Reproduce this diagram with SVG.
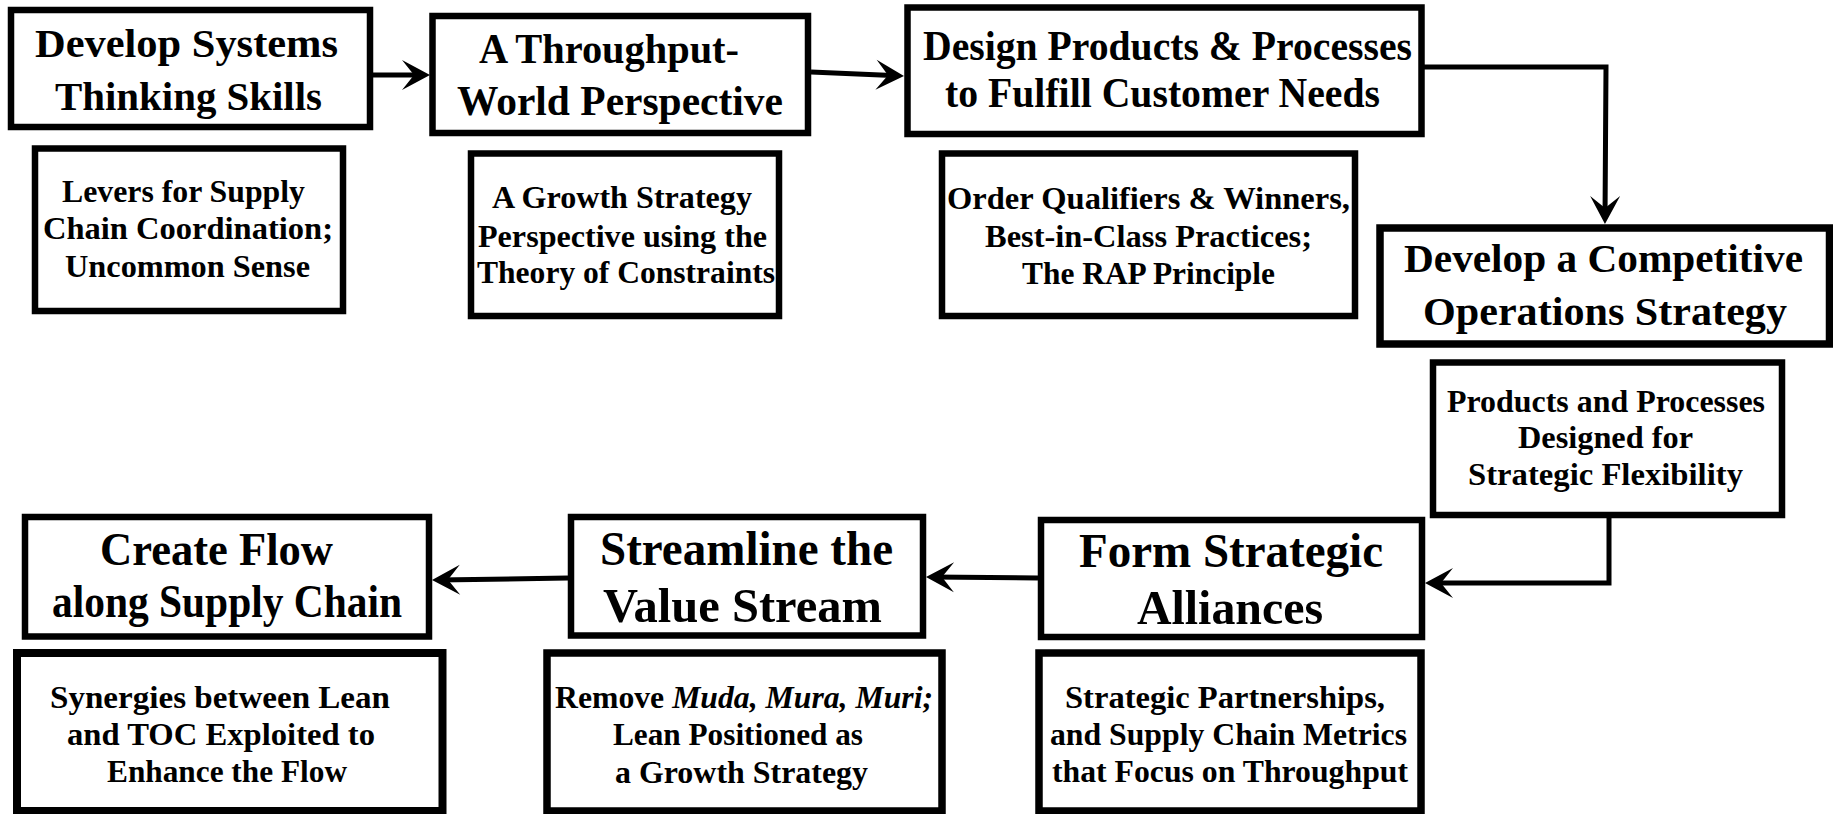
<svg xmlns="http://www.w3.org/2000/svg" width="1833" height="814" viewBox="0 0 1833 814">
<style>
.box{fill:#fff;stroke:#000;stroke-width:6.5}
.thick{stroke-width:7.5}
.t{font-family:'Liberation Serif','Times New Roman',Times,serif;font-weight:700;text-anchor:middle;fill:#000}
.h{font-size:42px}
.s{font-size:32px}
.i{font-style:italic}
.conn{fill:none;stroke:#000;stroke-width:5;stroke-linejoin:miter;marker-end:url(#ah)}
</style>
<defs>
<marker id="ah" markerUnits="userSpaceOnUse" viewBox="-24 -16 32 32" refX="0" refY="0" markerWidth="32" markerHeight="32" orient="auto">
<path d="M6,0 L-22,-15 L-10,0 L-22,15 Z" fill="#000"/>
</marker>
</defs>
<rect width="1833" height="814" fill="#fff"/>

<g id="connectors">
<path class="conn" d="M373,75 L424,75"/>
<path class="conn" d="M811,72 L898,75.7"/>
<path class="conn" d="M1424,67 L1606,67 L1605,218"/>
<path class="conn" d="M1609,518 L1609,583 L1431,583"/>
<path class="conn" d="M1038,578 L932,577"/>
<path class="conn" d="M568,578 L438,580"/>
</g>

<g id="n1">
<rect class="box" x="11" y="10" width="359" height="117"/>
<text class="t h" style="font-size:40px" x="186.5" y="57" textLength="303" lengthAdjust="spacingAndGlyphs">Develop Systems</text>
<text class="t h" style="font-size:40px" x="188.5" y="110" textLength="267" lengthAdjust="spacingAndGlyphs">Thinking Skills</text>
</g>
<g id="n1s">
<rect class="box" x="35" y="148.5" width="308" height="162.5"/>
<text class="t s" x="183.5" y="202" textLength="243" lengthAdjust="spacingAndGlyphs">Levers for Supply</text>
<text class="t s" x="188" y="239" textLength="290" lengthAdjust="spacingAndGlyphs">Chain Coordination;</text>
<text class="t s" x="187.5" y="277" textLength="245" lengthAdjust="spacingAndGlyphs">Uncommon Sense</text>
</g>

<g id="n2">
<rect class="box" x="432.5" y="16" width="375.5" height="117"/>
<text class="t h" x="609" y="63" textLength="260" lengthAdjust="spacingAndGlyphs">A Throughput-</text>
<text class="t h" x="620" y="115" textLength="326" lengthAdjust="spacingAndGlyphs">World Perspective</text>
</g>
<g id="n2s">
<rect class="box" x="471" y="153.5" width="308" height="162.5"/>
<text class="t s" x="622" y="208" textLength="260" lengthAdjust="spacingAndGlyphs">A Growth Strategy</text>
<text class="t s" x="622.5" y="247" textLength="289" lengthAdjust="spacingAndGlyphs">Perspective using the</text>
<text class="t s" x="626" y="283" textLength="298" lengthAdjust="spacingAndGlyphs">Theory of Constraints</text>
</g>

<g id="n3">
<rect class="box" x="907.5" y="7.5" width="514" height="126.5"/>
<text class="t h" x="1167.5" y="60" textLength="489" lengthAdjust="spacingAndGlyphs">Design Products &amp; Processes</text>
<text class="t h" x="1162.5" y="107" textLength="435" lengthAdjust="spacingAndGlyphs">to Fulfill Customer Needs</text>
</g>
<g id="n3s">
<rect class="box" x="942" y="153.5" width="413" height="162.5"/>
<text class="t s" x="1148.5" y="209" textLength="403" lengthAdjust="spacingAndGlyphs">Order Qualifiers &amp; Winners,</text>
<text class="t s" x="1148.5" y="247" textLength="327" lengthAdjust="spacingAndGlyphs">Best-in-Class Practices;</text>
<text class="t s" x="1148.5" y="284" textLength="253" lengthAdjust="spacingAndGlyphs">The RAP Principle</text>
</g>

<g id="n4">
<rect class="box thick" x="1380" y="228" width="449.5" height="116"/>
<text class="t h" style="font-size:41px" x="1603.5" y="272" textLength="399" lengthAdjust="spacingAndGlyphs">Develop a Competitive</text>
<text class="t h" style="font-size:41px" x="1605" y="325" textLength="364" lengthAdjust="spacingAndGlyphs">Operations Strategy</text>
</g>
<g id="n4s">
<rect class="box" x="1433" y="362.5" width="349" height="152.5"/>
<text class="t s" x="1606" y="412" textLength="318" lengthAdjust="spacingAndGlyphs">Products and Processes</text>
<text class="t s" x="1605.5" y="448" textLength="175" lengthAdjust="spacingAndGlyphs">Designed for</text>
<text class="t s" x="1605.5" y="485" textLength="275" lengthAdjust="spacingAndGlyphs">Strategic Flexibility</text>
</g>

<g id="n5">
<rect class="box" x="1041" y="520" width="381" height="117"/>
<text class="t" style="font-size:49px" x="1231" y="567" textLength="304" lengthAdjust="spacingAndGlyphs">Form Strategic</text>
<text class="t" style="font-size:49px" x="1230" y="624" textLength="186" lengthAdjust="spacingAndGlyphs">Alliances</text>
</g>
<g id="n5s">
<rect class="box thick" x="1039" y="653" width="382" height="158"/>
<text class="t s" x="1225" y="708" textLength="320" lengthAdjust="spacingAndGlyphs">Strategic Partnerships,</text>
<text class="t s" x="1228.5" y="745" textLength="357" lengthAdjust="spacingAndGlyphs">and Supply Chain Metrics</text>
<text class="t s" x="1230" y="782" textLength="356" lengthAdjust="spacingAndGlyphs">that Focus on Throughput</text>
</g>

<g id="n6">
<rect class="box" x="571" y="517" width="352" height="118.5"/>
<text class="t" style="font-size:48px" x="746.5" y="565" textLength="293" lengthAdjust="spacingAndGlyphs">Streamline the</text>
<text class="t" style="font-size:48px" x="742.5" y="622" textLength="279" lengthAdjust="spacingAndGlyphs">Value Stream</text>
</g>
<g id="n6s">
<rect class="box thick" x="547" y="653" width="395" height="158"/>
<text class="t s" x="744" y="708" textLength="378" lengthAdjust="spacingAndGlyphs">Remove <tspan class="i">Muda, Mura, Muri;</tspan></text>
<text class="t s" x="738" y="745" textLength="250" lengthAdjust="spacingAndGlyphs">Lean Positioned as</text>
<text class="t s" x="741.5" y="783" textLength="253" lengthAdjust="spacingAndGlyphs">a Growth Strategy</text>
</g>

<g id="n7">
<rect class="box" x="25" y="517" width="404" height="119.5"/>
<text class="t" style="font-size:47px" x="216.5" y="565" textLength="233" lengthAdjust="spacingAndGlyphs">Create Flow</text>
<text class="t" style="font-size:47px" x="227" y="617" textLength="350" lengthAdjust="spacingAndGlyphs">along Supply Chain</text>
</g>
<g id="n7s">
<rect class="box" style="stroke-width:8" x="17" y="653" width="425.5" height="158"/>
<text class="t s" x="220" y="708" textLength="340" lengthAdjust="spacingAndGlyphs">Synergies between Lean</text>
<text class="t s" x="221" y="745" textLength="308" lengthAdjust="spacingAndGlyphs">and TOC Exploited to</text>
<text class="t s" x="227" y="782" textLength="240" lengthAdjust="spacingAndGlyphs">Enhance the Flow</text>
</g>
</svg>
